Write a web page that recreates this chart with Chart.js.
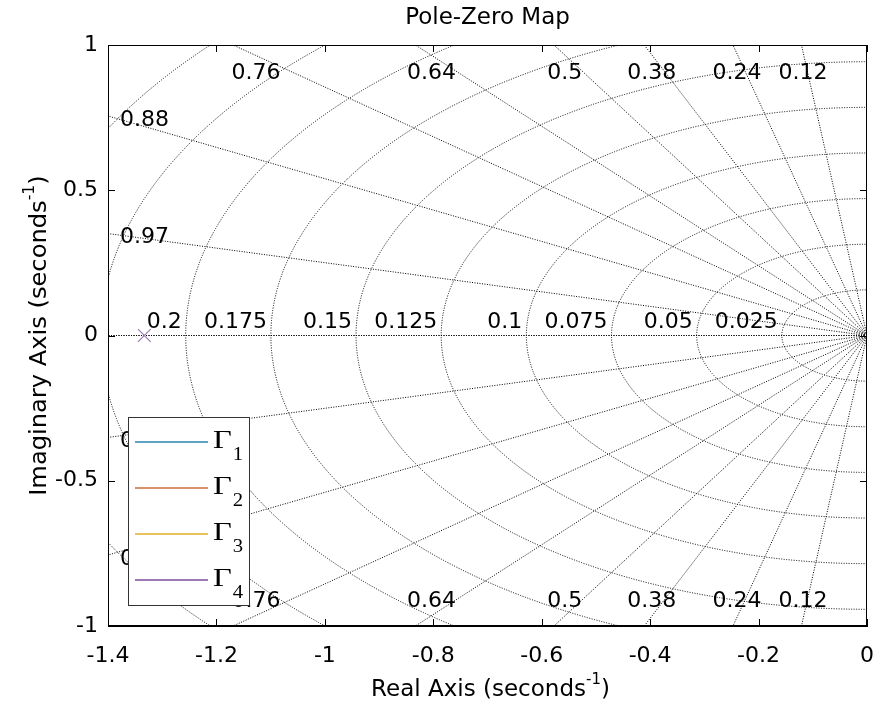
<!DOCTYPE html>
<html>
<head>
<title>Pole-Zero Map</title>
<script src="https://cdn.jsdelivr.net/npm/chart.js"></script>
<style>
  body { margin: 0; background: #fff; }
</style>
</head>
<body>
<canvas id="pzChart" width="880" height="714"></canvas>
<script>
// grid values (damping ratios and natural frequencies shown on the map)
const dampingRatios = [0.12, 0.24, 0.38, 0.5, 0.64, 0.76, 0.88, 0.97];
const naturalFreqs = [0.025, 0.05, 0.075, 0.1, 0.125, 0.15, 0.175, 0.2, 0.225, 0.25];

// systems and their poles (only the last one is visible on the map)
const systemNames = ['Γ1', 'Γ2', 'Γ3', 'Γ4'];
const systemColors = ['#5ea2c4', '#d98f68', '#e8c35f', '#9c79b3'];
const poleReal = [[], [], [], [-1.333]];
const poleImag = [[], [], [], [0]];

const xTickValues = [-1.4, -1.2, -1, -0.8, -0.6, -0.4, -0.2, 0];
const yTickValues = [-1, -0.5, 0, 0.5, 1];

const FONT = '"DejaVu Sans", "Liberation Sans", Arial, sans-serif';
const SERIF = '"Liberation Serif", "DejaVu Serif", serif';

function fmt(v) {
    return String(parseFloat(v.toFixed(3)));
}

// dotted s-plane grid, drawn under the poles
const sgridPlugin = {
    id: 'sgrid',
    beforeDatasetsDraw(chart) {
        const { ctx, chartArea: a, scales: { x, y } } = chart;
        const x0 = x.getPixelForValue(0), y0 = y.getPixelForValue(0);
        const kx = Math.abs(x.getPixelForValue(1) - x0);
        const ky = Math.abs(y.getPixelForValue(1) - y0);

        ctx.save();
        ctx.beginPath();
        ctx.rect(a.left, a.top, a.right - a.left, a.bottom - a.top);
        ctx.clip();
        ctx.strokeStyle = '#000';
        ctx.lineWidth = 1;
        ctx.setLineDash([1, 1.5]);

        naturalFreqs.forEach(f => {
            const r = 2 * Math.PI * f;
            ctx.beginPath();
            ctx.ellipse(x0, y0, r * kx, r * ky, 0, Math.PI / 2, 3 * Math.PI / 2);
            ctx.stroke();
        });

        [1].concat(dampingRatios).forEach(z => {
            const s = Math.sqrt(1 - z * z), R = 4;
            [1, -1].forEach(sign => {
                ctx.beginPath();
                ctx.moveTo(x0, y0);
                ctx.lineTo(x0 - z * R * kx, y0 - sign * s * R * ky);
                ctx.stroke();
            });
        });
        ctx.restore();

        // labels
        ctx.save();
        ctx.fillStyle = '#000';
        ctx.font = '22px ' + FONT;
        const xmin = x.min, ymax = y.max;
        dampingRatios.forEach(z => {
            const s = Math.sqrt(1 - z * z);
            const xTop = -z / s * ymax;
            const label = fmt(z);
            if (xTop >= xmin) {
                const yLab = ymax - 11 / ky;
                const px = x.getPixelForValue(-z / s * yLab) - 1;
                ctx.textAlign = 'center';
                ctx.textBaseline = 'middle';
                ctx.fillText(label, px, a.top + 28);
                ctx.fillText(label, px, a.bottom - 25);
            } else {
                const yl = -xmin * s / z;
                ctx.textAlign = 'left';
                ctx.textBaseline = 'middle';
                ctx.fillText(label, a.left + 12, y.getPixelForValue(yl) + 4);
                ctx.fillText(label, a.left + 12, y.getPixelForValue(-yl) + 4);
            }
        });
        naturalFreqs.forEach(f => {
            const r = 2 * Math.PI * f;
            if (-r < xmin) return;
            ctx.textAlign = 'right';
            ctx.textBaseline = 'alphabetic';
            ctx.fillText(fmt(f), x.getPixelForValue(-r) - 4, y0 - 8);
        });
        ctx.restore();
    }
};

function drawSupText(ctx, parts, cx, cy, size) {
    // parts: [text, superscript, tail]
    ctx.font = size + 'px ' + FONT;
    const w1 = ctx.measureText(parts[0]).width;
    const w3 = ctx.measureText(parts[2]).width;
    ctx.font = Math.round(size * 0.65) + 'px ' + FONT;
    const w2 = ctx.measureText(parts[1]).width;
    let px = cx - (w1 + w2 + w3) / 2;
    ctx.textAlign = 'left';
    ctx.textBaseline = 'middle';
    ctx.font = size + 'px ' + FONT;
    ctx.fillText(parts[0], px, cy);
    px += w1;
    ctx.font = Math.round(size * 0.65) + 'px ' + FONT;
    ctx.fillText(parts[1], px, cy - size * 0.42);
    px += w2;
    ctx.font = size + 'px ' + FONT;
    ctx.fillText(parts[2], px, cy);
}

// box, inward ticks, titles and the legend
const framePlugin = {
    id: 'frame',
    afterDraw(chart) {
        const { ctx, chartArea: a, scales: { x, y } } = chart;
        ctx.save();
        ctx.strokeStyle = '#000';
        ctx.lineWidth = 1;
        ctx.setLineDash([]);
        ctx.strokeRect(a.left + 0.5, a.top + 0.5, a.right - a.left - 1, a.bottom - a.top - 1);
        const tl = 7;
        ctx.beginPath();
        x.ticks.forEach(t => {
            const px = Math.round(x.getPixelForValue(t.value)) + 0.5;
            ctx.moveTo(px, a.bottom); ctx.lineTo(px, a.bottom - tl);
            ctx.moveTo(px, a.top); ctx.lineTo(px, a.top + tl);
        });
        y.ticks.forEach(t => {
            const py = Math.round(y.getPixelForValue(t.value)) + 0.5;
            ctx.moveTo(a.left, py); ctx.lineTo(a.left + tl, py);
            ctx.moveTo(a.right, py); ctx.lineTo(a.right - tl, py);
        });
        ctx.stroke();

        // titles
        const cx = (a.left + a.right) / 2;
        ctx.fillStyle = '#000';
        ctx.font = '23px ' + FONT;
        ctx.textAlign = 'center';
        ctx.textBaseline = 'middle';
        ctx.fillText('Pole-Zero Map', cx, 18);
        drawSupText(ctx, ['Real Axis (seconds', '-1', ')'], cx + 3, 690, 23);
        ctx.save();
        ctx.translate(40, (a.top + a.bottom) / 2);
        ctx.rotate(-Math.PI / 2);
        ctx.scale(1.05, 1);
        drawSupText(ctx, ['Imaginary Axis (seconds', '-1', ')'], 0, 0, 23);
        ctx.restore();

        // legend
        const bx = a.left + 20, bw = 121, bh = 188, by = a.bottom - 21 - bh;
        ctx.fillStyle = '#fff';
        ctx.fillRect(bx, by, bw, bh);
        ctx.strokeStyle = '#333';
        ctx.lineWidth = 1;
        ctx.strokeRect(bx + 0.5, by + 0.5, bw, bh);
        chart.data.datasets.forEach((ds, i) => {
            const ly = by + 25 + i * 46;
            ctx.strokeStyle = ds.borderColor;
            ctx.lineWidth = 1.8;
            ctx.beginPath();
            ctx.moveTo(bx + 7, ly);
            ctx.lineTo(bx + 80, ly);
            ctx.stroke();
            ctx.fillStyle = '#000';
            ctx.textAlign = 'left';
            ctx.textBaseline = 'alphabetic';
            ctx.save();
            ctx.translate(bx + 85, ly + 6);
            ctx.scale(1.3, 1);
            ctx.font = '25px ' + SERIF;
            ctx.fillText(ds.label.charAt(0), 0, 0);
            const gw = ctx.measureText(ds.label.charAt(0)).width;
            ctx.restore();
            ctx.save();
            ctx.translate(bx + 86 + gw * 1.3, ly + 18);
            ctx.scale(1.15, 1);
            ctx.font = '18px ' + SERIF;
            ctx.fillText(ds.label.slice(1), 0, 0);
            ctx.restore();
        });
        ctx.restore();
    }
};

const datasets = systemNames.map((name, i) => ({
    label: name,
    data: poleReal[i].map((re, k) => ({ x: re, y: poleImag[i][k] })),
    borderColor: systemColors[i],
    backgroundColor: systemColors[i],
    pointStyle: 'crossRot',
    pointRadius: 9,
    pointBorderWidth: 1.2,
    showLine: false
}));

new Chart(document.getElementById('pzChart'), {
    type: 'scatter',
    data: { datasets: datasets },
    options: {
        responsive: false,
        animation: false,
        layout: { padding: { top: 45, right: 13, left: 0, bottom: 0 } },
        plugins: {
            legend: { display: false },
            tooltip: { enabled: false },
            title: { display: false }
        },
        scales: {
            x: {
                type: 'linear',
                min: -1.4,
                max: 0,
                afterBuildTicks: s => { s.ticks = xTickValues.map(v => ({ value: v })); },
                afterFit: s => { s.height = 88; s.paddingLeft = 0; s.paddingRight = 0; },
                grid: { display: false, drawTicks: false },
                border: { display: true, color: '#000' },
                ticks: {
                    color: '#000',
                    padding: 17,
                    font: { family: FONT, size: 22 },
                    callback: v => fmt(v)
                }
            },
            y: {
                type: 'linear',
                min: -1,
                max: 1,
                afterBuildTicks: s => { s.ticks = yTickValues.map(v => ({ value: v })); },
                afterFit: s => { s.width = 108; s.paddingTop = 0; s.paddingBottom = 0; },
                grid: { display: false, drawTicks: false },
                border: { display: true, color: '#000' },
                ticks: {
                    color: '#000',
                    padding: 10,
                    font: { family: FONT, size: 22 },
                    callback: v => fmt(v)
                }
            }
        }
    },
    plugins: [sgridPlugin, framePlugin]
});
</script>
</body>
</html>
